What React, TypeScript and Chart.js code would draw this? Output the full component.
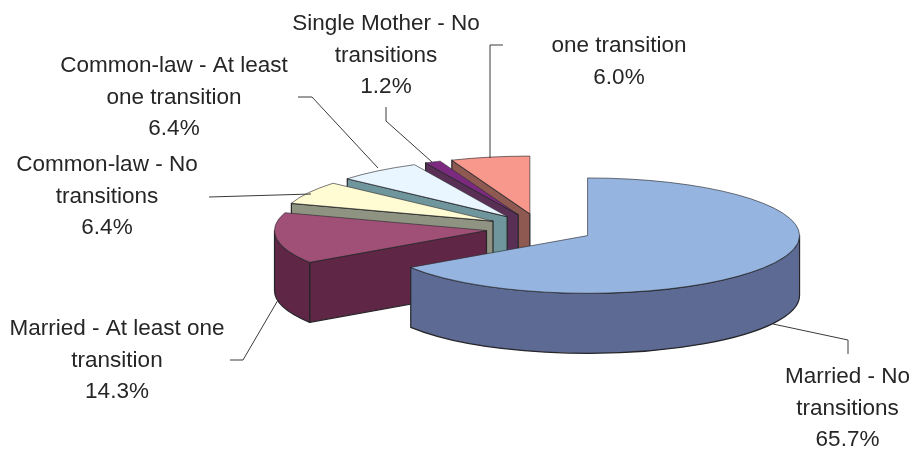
import React, { useEffect, useRef } from "react";
import { Chart, registerables } from "chart.js";

Chart.register(...registerables);

const categories = [
  "Married - No\ntransitions",
  "Married - At least one\ntransition",
  "Common-law - No\ntransitions",
  "Common-law - At least\none transition",
  "Single Mother - No\ntransitions",
  "one transition",
];
const shares = [65.7, 14.3, 6.4, 6.4, 1.2, 6.0];
const topColors = ["#95b4df", "#a05076", "#fffbd2", "#e9f6ff", "#7c2a80", "#f8978c"];
const sideColors = ["#5c6a94", "#5f2745", "#8f9381", "#6f969c", "#5a2f56", "#8e5950"];

// layout of the labels and their leader lines (not data)
const labelAnchors = [
  { x: 847.5, y: 383 },
  { x: 117, y: 335 },
  { x: 107, y: 171 },
  { x: 174, y: 72 },
  { x: 386, y: 30 },
  { x: 619, y: 52 },
];
const leaders = [
  [[773, 324], [848, 340], [848, 354]],
  [[278, 300], [243, 360], [230, 360]],
  [[209, 197], [311, 194]],
  [[298, 97], [312, 97], [378, 168]],
  [[386, 107], [386, 121], [432, 162]],
  [[503, 45], [490, 45], [490, 158]],
];
const PIE = { cx: 540, cy: 228.5, radius: 212, squash: 0.272, tilt: 0.278, explode: 54, depth: 60 };
const LINE_HEIGHT = 31.6;

const pie3d = {
  id: "pie3d",
  beforeDatasetDraw(chart: any) {
    const ctx = chart.ctx;
    const arcs = chart.getDatasetMeta(0).data;
    const { cx, cy, squash, tilt, explode, depth } = PIE;
    for (let i = arcs.length - 1; i >= 0; i--) {
      const a = arcs[i];
      const mid = (a.startAngle + a.endAngle) / 2;
      const px = cx + Math.cos(mid) * explode;
      const py = cy + Math.sin(mid) * explode * tilt;
      const R = a.outerRadius;
      ctx.save();
      ctx.fillStyle = sideColors[i];
      ctx.strokeStyle = "#26262a";
      ctx.lineWidth = 1.2;
      ctx.lineJoin = "round";
      // radial wall on the start edge, when it faces the viewer
      if (Math.cos(a.startAngle) < -0.001) {
        const ex = px + Math.cos(a.startAngle) * R;
        const ey = py + Math.sin(a.startAngle) * R * squash;
        ctx.beginPath();
        ctx.moveTo(px, py);
        ctx.lineTo(ex, ey);
        ctx.lineTo(ex, ey + depth);
        ctx.lineTo(px, py + depth);
        ctx.closePath();
        ctx.fill();
        ctx.stroke();
      }
      // rim, the front half of the ellipse only
      const a0 = Math.max(a.startAngle, 0);
      const a1 = Math.min(a.endAngle, Math.PI);
      if (a1 > a0) {
        ctx.beginPath();
        ctx.ellipse(px, py, R, R * squash, 0, a0, a1);
        ctx.ellipse(px, py + depth, R, R * squash, 0, a1, a0, true);
        ctx.closePath();
        ctx.fill();
        ctx.stroke();
      }
      ctx.restore();
      // top face, drawn by the library's own arc element
      ctx.save();
      ctx.translate(px, py);
      ctx.scale(1, squash);
      ctx.translate(-a.x, -a.y);
      a.draw(ctx);
      ctx.restore();
    }
    return false;
  },
  afterDraw(chart: any) {
    const ctx = chart.ctx;
    ctx.save();
    ctx.strokeStyle = "#3a3a3a";
    ctx.lineWidth = 1;
    leaders.forEach((pts) => {
      ctx.beginPath();
      pts.forEach(([x, y], j) => (j ? ctx.lineTo(x, y) : ctx.moveTo(x, y)));
      ctx.stroke();
    });
    ctx.fillStyle = "#262626";
    ctx.font = "22.5px 'Liberation Sans', Arial, sans-serif";
    ctx.textAlign = "center";
    ctx.textBaseline = "alphabetic";
    const labels = chart.data.labels;
    const values = chart.data.datasets[0].data;
    labels.forEach((label: string, i: number) => {
      const lines = [...label.split("\n"), values[i].toFixed(1) + "%"];
      lines.forEach((t, j) => ctx.fillText(t, labelAnchors[i].x, labelAnchors[i].y + j * LINE_HEIGHT));
    });
    ctx.restore();
  },
};

export default function App() {
  const ref = useRef<HTMLCanvasElement>(null);
  useEffect(() => {
    document.body.style.margin = "0";
    const chart = new Chart(ref.current!, {
      type: "pie",
      data: {
        labels: categories,
        datasets: [
          {
            data: shares,
            backgroundColor: topColors,
            borderColor: "#2b2b30",
            borderWidth: 1,
            clip: false,
          } as any,
        ],
      },
      options: {
        animation: false,
        responsive: false,
        radius: PIE.radius,
        layout: { padding: 0 },
        plugins: { legend: { display: false }, tooltip: { enabled: false } },
        events: [],
      } as any,
      plugins: [pie3d],
    });
    return () => chart.destroy();
  }, []);
  return (
    <div style={{ width: 914, height: 449 }}>
      <canvas ref={ref} width={914} height={449} style={{ display: "block" }} />
    </div>
  );
}
